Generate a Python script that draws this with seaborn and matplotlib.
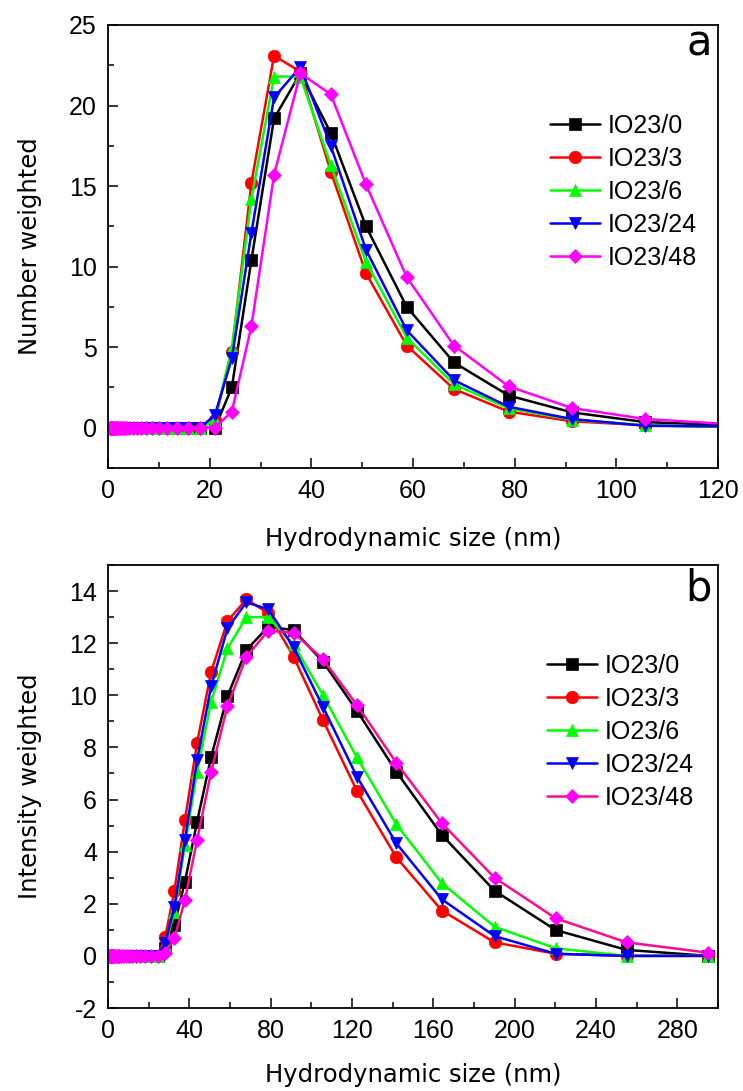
import matplotlib
matplotlib.use("Agg")
import matplotlib.pyplot as plt
import seaborn as sns
import pandas as pd
from matplotlib.ticker import MultipleLocator

# ---------------- data ----------------
samples = ["IO23/0", "IO23/3", "IO23/6", "IO23/24", "IO23/48"]

size_a = [0.4, 0.4632, 0.5365, 0.6213, 0.7195, 0.8332, 0.9649, 1.117, 1.294,
          1.499, 1.736, 2.01, 2.328, 2.696, 3.122, 3.615, 4.187, 4.849,
          5.615, 6.503, 7.531, 8.721, 10.1, 11.7, 13.54, 15.69, 18.17,
          21.04, 24.36, 28.21, 32.67, 37.84, 43.82, 50.75, 58.77, 68.06,
          78.82, 91.28, 105.7, 122.4]

num_io0 = [0, 0, 0, 0, 0, 0, 0, 0, 0, 0, 0, 0, 0, 0, 0, 0, 0, 0, 0, 0, 0, 0, 0, 0, 0, 0, 0,
           0.0, 2.5, 10.4, 19.2, 22.0, 18.3, 12.5, 7.5, 4.05, 2.0, 0.95, 0.35, 0.15]
num_io3 = [0, 0, 0, 0, 0, 0, 0, 0, 0, 0, 0, 0, 0, 0, 0, 0, 0, 0, 0, 0, 0, 0, 0, 0, 0, 0, 0,
           0.5, 4.7, 15.2, 23.1, 22.1, 15.9, 9.6, 5.1, 2.4, 1.0, 0.4, 0.15, 0.05]
num_io6 = [0, 0, 0, 0, 0, 0, 0, 0, 0, 0, 0, 0, 0, 0, 0, 0, 0, 0, 0, 0, 0, 0, 0, 0, 0, 0, 0,
           0.5, 4.95, 14.2, 21.8, 21.8, 16.3, 10.3, 5.6, 2.7, 1.2, 0.5, 0.15, 0.05]
num_io24 = [0, 0, 0, 0, 0, 0, 0, 0, 0, 0, 0, 0, 0, 0, 0, 0, 0, 0, 0, 0, 0, 0, 0, 0, 0, 0, 0,
            0.8, 4.3, 12.1, 20.5, 22.4, 17.5, 11.05, 6.05, 2.95, 1.3, 0.54, 0.12, 0.08]
num_io48 = [0, 0, 0, 0, 0, 0, 0, 0, 0, 0, 0, 0, 0, 0, 0, 0, 0, 0, 0, 0, 0, 0, 0, 0, 0, 0, 0,
            0.0, 1.0, 6.3, 15.7, 22.0, 20.7, 15.1, 9.35, 5.1, 2.57, 1.22, 0.54, 0.22]

size_b = [0.4, 0.4632, 0.5365, 0.6213, 0.7195, 0.8332, 0.9649, 1.117, 1.294,
          1.499, 1.736, 2.01, 2.328, 2.696, 3.122, 3.615, 4.187, 4.849,
          5.615, 6.503, 7.531, 8.721, 10.1, 11.7, 13.54, 15.69, 18.17,
          21.04, 24.36, 28.21, 32.67, 37.84, 43.82, 50.75, 58.77, 68.06,
          78.82, 91.28, 105.7, 122.4, 141.8, 164.2, 190.1, 220.2, 255.0, 295.3]

int_io0 = [0, 0, 0, 0, 0, 0, 0, 0, 0, 0, 0, 0, 0, 0, 0, 0, 0, 0, 0, 0, 0, 0, 0, 0, 0, 0, 0, 0, 0,
           0.3, 1.19, 2.85, 5.15, 7.64, 9.97, 11.74, 12.63, 12.5, 11.29, 9.41, 7.07, 4.64, 2.5, 0.99, 0.23, 0.0]
int_io3 = [0, 0, 0, 0, 0, 0, 0, 0, 0, 0, 0, 0, 0, 0, 0, 0, 0, 0, 0, 0, 0, 0, 0, 0, 0, 0, 0, 0, 0,
           0.74, 2.5, 5.21, 8.18, 10.9, 12.85, 13.68, 13.15, 11.48, 9.05, 6.34, 3.78, 1.74, 0.52, 0.08, 0.0, 0.0]
int_io6 = [0, 0, 0, 0, 0, 0, 0, 0, 0, 0, 0, 0, 0, 0, 0, 0, 0, 0, 0, 0, 0, 0, 0, 0, 0, 0, 0, 0, 0,
           0.4, 1.7, 4.26, 7.07, 9.76, 11.8, 13.0, 13.0, 11.95, 10.01, 7.62, 5.05, 2.79, 1.12, 0.29, 0.0, 0.0]
int_io24 = [0, 0, 0, 0, 0, 0, 0, 0, 0, 0, 0, 0, 0, 0, 0, 0, 0, 0, 0, 0, 0, 0, 0, 0, 0, 0, 0, 0, 0,
            0.49, 1.89, 4.45, 7.52, 10.36, 12.57, 13.57, 13.3, 11.84, 9.56, 6.88, 4.32, 2.17, 0.76, 0.08, 0.0, 0.0]
int_io48 = [0, 0, 0, 0, 0, 0, 0, 0, 0, 0, 0, 0, 0, 0, 0, 0, 0, 0, 0, 0, 0, 0, 0, 0, 0, 0, 0, 0, 0,
            0.1, 0.68, 2.15, 4.45, 7.07, 9.59, 11.48, 12.48, 12.4, 11.39, 9.63, 7.41, 5.09, 3.0, 1.44, 0.52, 0.12]

xticks_a = [0, 20, 40, 60, 80, 100, 120]
yticks_a = [0, 5, 10, 15, 20, 25]
xticks_b = [0, 40, 80, 120, 160, 200, 240, 280]
yticks_b = [-2, 0, 2, 4, 6, 8, 10, 12, 14]

# ---------------- style ----------------
sns.set_style("white")
plt.rcParams["font.family"] = ["Liberation Sans", "DejaVu Sans"]
plt.rcParams["text.color"] = "black"
plt.rcParams["axes.labelcolor"] = "black"
plt.rcParams["axes.unicode_minus"] = False

palette = {"IO23/0": "#000000", "IO23/3": "#ff0000", "IO23/6": "#00ff00",
           "IO23/24": "#0000ff", "IO23/48": "#ff00ff"}
markers = {"IO23/0": "s", "IO23/3": "o", "IO23/6": "^", "IO23/24": "v", "IO23/48": "D"}
msizes = {"IO23/0": 8.0, "IO23/3": 9.0, "IO23/6": 9.0, "IO23/24": 9.0, "IO23/48": 7.5}


def long_frame(x, series):
    rows = []
    for name, vals in zip(samples, series):
        for xi, yi in zip(x, vals):
            rows.append({"size": xi, "value": yi, "sample": name})
    return pd.DataFrame(rows)


df_a = long_frame(size_a, [num_io0, num_io3, num_io6, num_io24, num_io48])
df_b = long_frame(size_b, [int_io0, int_io3, int_io6, int_io24, int_io48])

W, H = 743, 1091
fig = plt.figure(figsize=(W / 100, H / 100), dpi=100)
ax_a = fig.add_axes([108 / W, 1 - 468 / H, 610 / W, 443 / H])
ax_b = fig.add_axes([108 / W, 1 - 1008 / H, 610 / W, 443 / H])


def draw(ax, df, line48):
    sns.lineplot(data=df, x="size", y="value", hue="sample", style="sample",
                 hue_order=samples, style_order=samples, palette=palette,
                 markers=markers, dashes=False, estimator=None, sort=False,
                 legend=False, linewidth=1.8, ax=ax)
    for ln, name in zip(ax.lines, samples):
        c = palette[name]
        ln.set_markersize(msizes[name])
        ln.set_markerfacecolor(c)
        ln.set_markeredgecolor(c)
        ln.set_markeredgewidth(0.5)
        if name == "IO23/48":
            ln.set_color(line48)
    ax.legend(handles=ax.lines[:5], labels=samples, frameon=False,
              loc="upper left", borderpad=0, borderaxespad=0,
              handlelength=2.0, handletextpad=0.3, labelspacing=0.36,
              numpoints=1, fontsize=18)


draw(ax_a, df_a, "#ff00ff")
draw(ax_b, df_b, "#ff0a8c")

ax_a.get_legend().set_bbox_to_anchor((0.725, 0.80), transform=ax_a.transAxes)
ax_b.get_legend().set_bbox_to_anchor((0.72, 0.80), transform=ax_b.transAxes)

ax_a.set_xlim(0, 120)
ax_a.set_ylim(-2.5, 25)
ax_a.set_xticks(xticks_a)
ax_a.set_yticks(yticks_a)
ax_a.xaxis.set_minor_locator(MultipleLocator(10))
ax_a.yaxis.set_minor_locator(MultipleLocator(2.5))

ax_b.set_xlim(0, 300)
ax_b.set_ylim(-2, 15)
ax_b.set_xticks(xticks_b)
ax_b.set_yticks(yticks_b)
ax_b.xaxis.set_minor_locator(MultipleLocator(20))
ax_b.yaxis.set_minor_locator(MultipleLocator(1))

for ax, ylab, tag, tagy in [(ax_a, "Number weighted", "a", 0.932),
                            (ax_b, "Intensity weighted", "b", 0.919)]:
    for sp in ax.spines.values():
        sp.set_linewidth(1.3)
        sp.set_color("black")
    ax.tick_params(which="both", direction="in", bottom=True, left=True,
                   top=False, right=False, labelsize=18, colors="black",
                   width=1.1)
    ax.tick_params(which="major", length=7, pad=8)
    ax.tick_params(which="minor", length=4)
    ax.set_xlabel("Hydrodynamic size (nm)", fontsize=17.5, family="DejaVu Sans",
                  color="black")
    ax.set_ylabel(ylab, fontsize=17.5, family="DejaVu Sans", color="black")
    ax.xaxis.label.set_va("center")
    ax.yaxis.label.set_va("center")
    ax.text(0.99, tagy, tag, transform=ax.transAxes, ha="right", va="baseline",
            fontsize=30, family="DejaVu Sans", color="black")

ax_a.xaxis.set_label_coords(0.5, (468 - 539) / 443)
ax_b.xaxis.set_label_coords(0.5, (1008 - 1075) / 443)
ax_a.yaxis.set_label_coords((30 - 108) / 610, 0.5)
ax_b.yaxis.set_label_coords((30 - 108) / 610, 0.5)

fig.savefig("out.png", dpi=100)
